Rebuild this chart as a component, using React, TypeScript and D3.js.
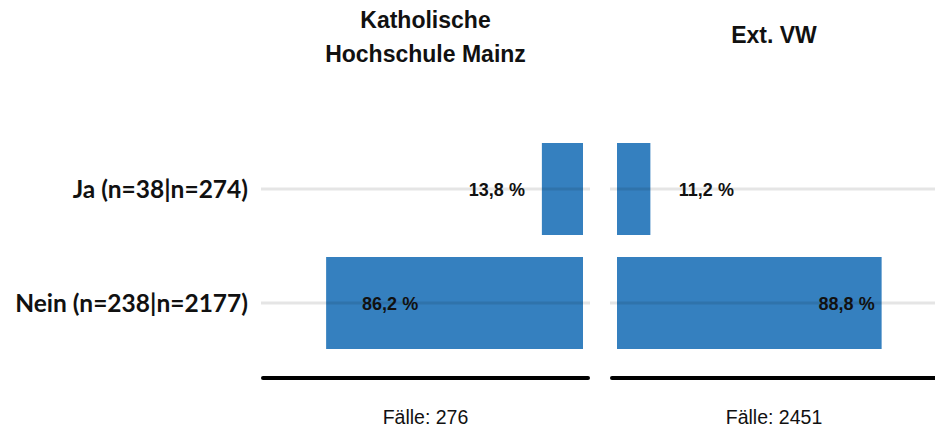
import React from 'react'
import * as d3 from 'd3'

const categories = ['Ja (n=38|n=274)', 'Nein (n=238|n=2177)']
const groups = [['Katholische', 'Hochschule Mainz'], ['Ext. VW']]
const kathValues = [13.8, 86.2]
const extVwValues = [11.2, 88.8]
const cases = [276, 2451]

const width = 935
const height = 430
const barColor = '#3580bf'
const arial = '"Liberation Sans", Arial, sans-serif'

const fmt = (v: number) => d3.format('.1f')(v).replace('.', ',') + ' %'

export default function App() {
  const y = d3.scaleBand<string>()
    .domain(categories)
    .range([132, 360])
    .paddingInner(0.193)
    .paddingOuter(0.0965)

  // left panel grows to the left, right panel to the right (right one runs off the edge)
  const panels = [
    { values: kathValues, x: d3.scaleLinear().domain([0, 100]).range([583, 285]), x0: 261, x1: 590, cx: 425.5, dir: -1 },
    { values: extVwValues, x: d3.scaleLinear().domain([0, 100]).range([617, 915]), x0: 610, x1: 945, cx: 774, dir: 1 }
  ]

  return (
    <svg width={width} height={height} style={{ position: 'absolute', left: 0, top: 0 }}>
      <rect width={width} height={height} fill="#fff" />

      {categories.map(c => (
        <text key={c} x={248} y={y(c)! + y.bandwidth() / 2} dy="0.36em" textAnchor="end"
          fontFamily="Lato, sans-serif" fontWeight="bold" fontSize={24.5} fill="#111">
          {c}
        </text>
      ))}

      {panels.map((p, pi) => {
        const title = groups[pi]
        return (
          <g key={pi}>
            {title.map((t, ti) => (
              <text key={t} x={p.cx} y={title.length > 1 ? 28 + ti * 34 : 43} textAnchor="middle"
                fontFamily={arial} fontWeight="bold" fontSize={23} fill="#111">{t}</text>
            ))}

            {p.values.map((v, i) => {
              const a = p.x(0), b = p.x(v)
              return (
                <rect key={i} x={Math.min(a, b)} y={y(categories[i])} width={Math.abs(b - a)}
                  height={y.bandwidth()} fill={barColor} />
              )
            })}

            {categories.map(c => (
              <line key={c} x1={p.x0} x2={p.x1} y1={y(c)! + y.bandwidth() / 2} y2={y(c)! + y.bandwidth() / 2}
                stroke="#000" strokeOpacity={0.1} strokeWidth={3} />
            ))}

            {p.values.map((v, i) => {
              const end = p.x(v)
              const big = v > 50
              // label sits inside big bars, just beyond small ones
              const off = p.dir < 0 ? (big ? 64 : -45) : (big ? -35 : 56)
              return (
                <text key={i} x={end + off} y={y(categories[i])! + y.bandwidth() / 2} dy="0.38em"
                  textAnchor="middle" fontFamily={arial} fontWeight="bold" fontSize={18} fill="#111">
                  {fmt(v)}
                </text>
              )
            })}

            <line x1={p.x0 + 2} x2={p.x1 - 2} y1={378} y2={378} stroke="#000" strokeWidth={4} strokeLinecap="round" />
            <text x={p.cx} y={424} textAnchor="middle" fontFamily={arial} fontSize={19.5} fill="#111">
              {'Fälle: ' + cases[pi]}
            </text>
          </g>
        )
      })}
    </svg>
  )
}
